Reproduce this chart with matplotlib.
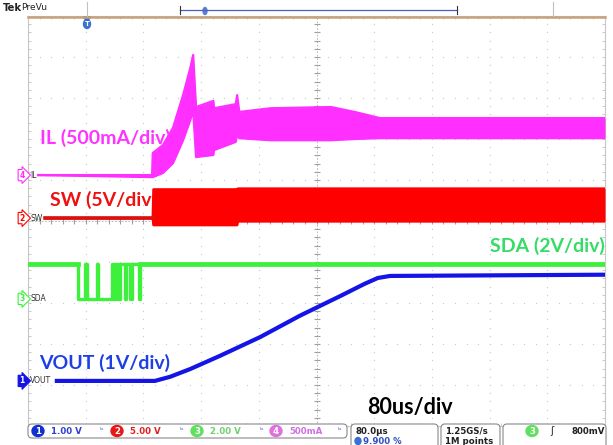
import numpy as np
import matplotlib
matplotlib.use('Agg')
import matplotlib.pyplot as plt
from matplotlib.patches import FancyBboxPatch, Ellipse, Polygon

# ---- scope data (time in us, 80 us/div, 10 div) ----
il_t = [14, 172, 173, 187, 201, 215, 225, 229, 233, 257, 258, 288, 290, 293, 336, 420, 453, 488, 800]
il_hi = [0, 0, 270, 365, 575, 975, 1305, 1465, 830, 905, 815, 865, 975, 770, 815, 830, 770, 695, 695]   # mA
il_lo = [0, -25, -25, 25, 145, 425, 670, 795, 220, 245, 305, 405, 490, 450, 425, 425, 440, 450, 450]

sw_t = [24, 173, 174, 290, 291, 800]
sw_hi = [0, 0, 3.5, 3.5, 3.6, 3.6]   # V
sw_lo = [0, 0, -0.85, -0.85, -0.4, -0.4]

sda_t = [0, 69, 79, 82, 96, 97, 116, 119, 122, 125, 128, 134, 136, 141, 144, 154, 155, 800]
sda_v = [1.7, 0, 1.7, 0, 1.7, 0, 1.7, 0, 1.7, 0, 1.7, 0, 1.7, 0, 1.7, 0, 1.7, 1.7]

vout_t = [40, 176, 197, 225, 266, 322, 377, 433, 467, 485, 502, 800]
vout_v = [0, 0, 0.10, 0.29, 0.61, 1.07, 1.59, 2.07, 2.37, 2.51, 2.56, 2.59]

# channel settings: (volts or mA per div, ground offset in div)
IL_SCALE, IL_OFF = 500, 6.12
SW_SCALE, SW_OFF = 5, 5.07
SDA_SCALE, SDA_OFF = 2, 3.10
VOUT_SCALE, VOUT_OFF = 1, 1.10

IL_C = '#ff30ff'
SW_C = '#ff0000'
SDA_C = '#3cf03c'
VOUT_C = '#1414e6'
GRID_C = '#c8c8c8'


def to_div(vals, scale, off):
    return off + np.asarray(vals, dtype=float) / scale


fig = plt.figure(figsize=(6.13, 4.45), dpi=100)
ax = fig.add_axes([28 / 613, 19 / 445, 577 / 613, 410 / 445])
ax.set_xlim(0, 800)
ax.set_ylim(0, 10)

# graticule
for s in ax.spines.values():
    s.set_color('#c8c8c8')
    s.set_linewidth(0.8)
ax.set_xticks([])
ax.set_yticks([])
ax.set_xticks(np.arange(0, 801, 16), minor=True)
ax.set_yticks(np.arange(0, 10.01, 0.2), minor=True)
ax.tick_params(which='minor', direction='in', length=2.5, color='#c0c0c0',
               top=True, right=True, labelbottom=False, labelleft=False)
gx, gy = [], []
for i in range(1, 10):
    for y in np.arange(0, 10.01, 0.2):
        gx.append(i * 80); gy.append(y)
for j in range(1, 10):
    for x in np.arange(0, 801, 16):
        gx.append(x); gy.append(j)
ax.scatter(gx, gy, s=0.8, color=GRID_C, lw=0, zorder=1)
ax.axvline(400, color='#b0b0b0', lw=0.6, ls=(0, (2, 2)), zorder=1)
ax.axhline(5, color='#b0b0b0', lw=0.6, ls=(0, (2, 2)), zorder=1)
cy = np.arange(0, 10.01, 0.2)
ax.plot(np.full_like(cy, 400), cy, ls='none', marker='_', ms=4, mew=0.8, color='#a0a0a0', zorder=1)
cx = np.arange(0, 801, 16)
ax.plot(cx, np.full_like(cx, 5.0), ls='none', marker='|', ms=4, mew=0.8, color='#a0a0a0', zorder=1)

# traces
ax.step(sda_t, to_div(sda_v, SDA_SCALE, SDA_OFF), where='post', color=SDA_C, lw=2.4, zorder=3)
ax.plot(sda_t[-2:], to_div(sda_v[-2:], SDA_SCALE, SDA_OFF), color=SDA_C, lw=3.4, zorder=3)
ax.plot(sda_t[:2], to_div(sda_v[:1] * 2, SDA_SCALE, SDA_OFF), color=SDA_C, lw=3.4, zorder=3)

hi = to_div(sw_hi, SW_SCALE, SW_OFF)
lo = to_div(sw_lo, SW_SCALE, SW_OFF)
ax.fill_between(sw_t, hi, lo, color=SW_C, lw=0, zorder=4)
ax.plot(sw_t, hi, color=SW_C, lw=1.8, zorder=4)
ax.plot(sw_t, lo, color=SW_C, lw=1.8, zorder=4)
ax.plot(sw_t[:2], to_div(sw_hi[:2], SW_SCALE, SW_OFF), color='#dd1010', lw=2.6, zorder=4)

hi = to_div(il_hi, IL_SCALE, IL_OFF)
lo = to_div(il_lo, IL_SCALE, IL_OFF)
ax.fill_between(il_t, hi, lo, color=IL_C, lw=0, zorder=4)
ax.plot(il_t, hi, color=IL_C, lw=1.6, zorder=4)
ax.plot(il_t, lo, color=IL_C, lw=1.6, zorder=4)

ax.plot(vout_t, to_div(vout_v, VOUT_SCALE, VOUT_OFF), color=VOUT_C, lw=3.0, zorder=5)

# annotations
bold = dict(family='Lato', fontweight='bold', fontsize=14)
ax.text(16, 7.02, 'IL (500mA/div)', color='#ff33ff', va='center', zorder=6, **bold)
ax.text(30, 5.51, 'SW (5V/div', color='#ee1111', va='center', zorder=6, **bold)
ax.text(800, 4.39, 'SDA (2V/div)', color='#33dd66', va='center', ha='right', zorder=6, **bold)
ax.text(16, 1.54, 'VOUT (1V/div)', color='#1f3fe6', va='center', zorder=6, **bold)
ax.text(470, 0.44, '80us/div', color='black', va='center', zorder=6,
        family='Lato', fontweight='bold', fontsize=15.5)

# channel markers at the left edge
for name, num, off, col, filled in [('IL', '4', IL_OFF, IL_C, False),
                                     ('SW', '2', SW_OFF, SW_C, False),
                                     ('SDA', '3', SDA_OFF, SDA_C, False),
                                     ('VOUT', '1', VOUT_OFF, VOUT_C, True)]:
    ax.annotate(num, xy=(-0.006, off), xycoords=('axes fraction', 'data'),
                ha='right', va='center', fontsize=5.5, fontweight='bold',
                color='white' if filled else col, annotation_clip=False,
                bbox=dict(boxstyle='rarrow,pad=0.15', fc=col if filled else 'white',
                          ec=col, lw=0.8))
    ax.text(3, off, name, fontsize=5.5, color='#333333', va='center', zorder=6)

# overlay in pixel coords for scope chrome
ov = fig.add_axes([0, 0, 1, 1])
ov.set_xlim(0, 613)
ov.set_ylim(445, 0)
ov.axis('off')

ov.text(3, 8, 'Tek', fontsize=7.2, fontweight='bold', va='center', color='#222222')
ov.text(21, 8, 'PreVu', fontsize=6.6, va='center', color='#222222')
ov.plot([28, 605], [16.5, 16.5], color='#c8a07a', lw=1.8)
ov.plot([87, 87], [2, 16], color='#c0c0c0', lw=0.8)
ov.plot([553, 553], [2, 16], color='#c0c0c0', lw=0.8)
ov.plot([180, 457], [10, 10], color='#4a5fc0', lw=0.9)
ov.plot([180, 180], [6, 14], color='#333333', lw=0.8)
ov.plot([457, 457], [6, 14], color='#333333', lw=0.8)
ov.add_patch(Ellipse((205, 11), 4, 7, color='#5a7fd0'))
# trigger position marker
ov.add_patch(Polygon([[83, 17], [91, 17], [87, 21]], color='#3060c0'))
ov.add_patch(Ellipse((87, 24), 7, 9, color='#3a70d0'))
ov.text(87, 24.5, 'T', fontsize=5, color='white', ha='center', va='center', fontweight='bold')

# status bar
def rbox(x0, x1, y0, y1):
    ov.add_patch(FancyBboxPatch((x0, y0), x1 - x0, y1 - y0,
                                boxstyle='round,pad=0,rounding_size=4',
                                fc='white', ec='#8a8a8a', lw=0.8))

rbox(28, 347, 424, 438)
rbox(351, 438, 424, 452)
rbox(441, 500, 424, 452)
rbox(503, 606, 424, 452)

sfont = dict(fontsize=6.2, fontweight='bold', va='center')
for cx0, num, col, txt, tcol in [(38, '1', '#1030d0', '1.00 V', '#3040d0'),
                                  (117, '2', '#e81818', '5.00 V', '#e02020'),
                                  (197, '3', '#60e060', '2.00 V', '#70d070'),
                                  (276, '4', '#e070e0', '500mA', '#d070e0')]:
    ov.add_patch(Ellipse((cx0, 431), 12, 11, color=col))
    ov.text(cx0, 431.5, num, color='white', ha='center', **sfont)
    ov.text(cx0 + 13, 431, txt, color=tcol, **sfont)
    ov.text(cx0 + 62, 431, 'ᵇ', color='#6070d0', fontsize=6, va='center')

ov.text(355, 431, '80.0µs', color='#222222', **sfont)
ov.add_patch(Ellipse((358, 441), 6, 7, color='#3a70d0'))
ov.text(363, 441, '9.900 %', color='#3050c0', **sfont)
ov.text(445, 431, '1.25GS/s', color='#222222', **sfont)
ov.text(445, 441, '1M points', color='#222222', **sfont)
ov.add_patch(Ellipse((532, 431), 12, 11, color='#60e060'))
ov.text(532, 431.5, '3', color='white', ha='center', **sfont)
ov.text(550, 431, 'ʃ', color='#222222', fontsize=7, va='center')
ov.text(571, 431, '800mV', color='#222222', **sfont)

fig.savefig('out.png', dpi=100)
